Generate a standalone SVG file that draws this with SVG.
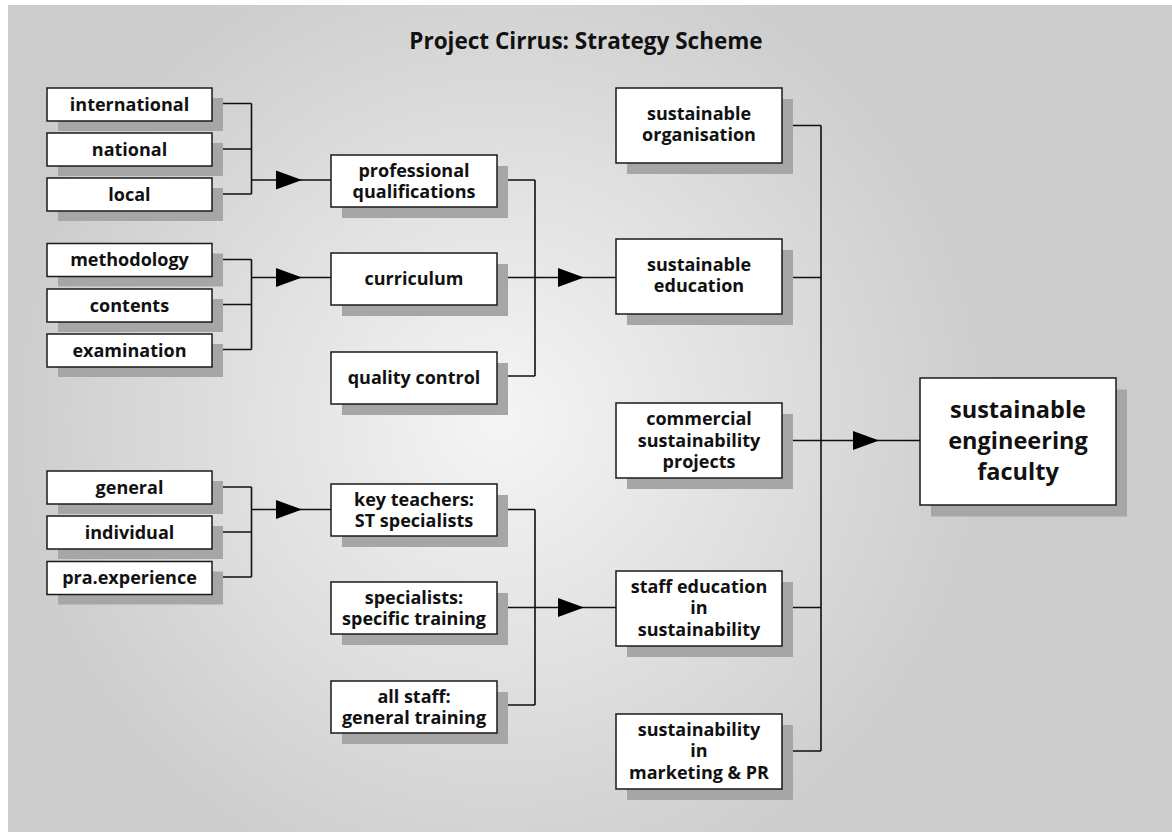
<svg xmlns="http://www.w3.org/2000/svg" xmlns:xlink="http://www.w3.org/1999/xlink" width="1172" height="832" viewBox="0 0 1172 832">
<defs>
<radialGradient id="bg" gradientUnits="userSpaceOnUse" cx="500" cy="420" r="500">
<stop offset="0" stop-color="#f5f5f5"/>
<stop offset="1" stop-color="#cccccc"/>
</radialGradient>
<path id="arr" d="M0,0 L-26,-9.5 L-26,9.5 Z" fill="#000"/>
</defs>
<style>
.sh{fill:#a6a6a6}
.bx{fill:#fff;stroke:#1a1a1a;stroke-width:1.5}
.t{font-family:"Open Sans","Noto Sans","DejaVu Sans",sans-serif;font-weight:bold;font-size:18px;fill:#111;text-anchor:middle}
.big{font-size:23.5px}
.ttl{font-size:22.5px}
.ln{fill:none;stroke:#111;stroke-width:1.6}
</style>
<rect x="8" y="5" width="1164" height="827" fill="url(#bg)"/>
<text class="t ttl" x="586" y="49">Project Cirrus: Strategy Scheme</text>

<g id="connectors">
<path class="ln" d="M212,103.5H251.5M212,149H251.5M212,194H251.5M251.5,103.5V194M251.5,180H331"/>
<path class="ln" d="M212,259.5H251.5M212,304.5H251.5M212,349.5H251.5M251.5,259.5V349.5M251.5,277.5H331"/>
<path class="ln" d="M212,487H251.5M212,532H251.5M212,577H251.5M251.5,487V577M251.5,509.5H331"/>
<path class="ln" d="M497,180H535M497,277.5H616M497,376H535M535,180V376"/>
<path class="ln" d="M497,509.5H535M497,607.5H616M497,705H535M535,509.5V705"/>
<path class="ln" d="M782,125.5H821M782,277.5H821M782,440.5H821M782,607.5H821M782,751H821M821,125.5V751M821,440.5H920"/>
<use xlink:href="#arr" x="302" y="180"/>
<use xlink:href="#arr" x="302" y="277.5"/>
<use xlink:href="#arr" x="302" y="509.5"/>
<use xlink:href="#arr" x="584" y="277.5"/>
<use xlink:href="#arr" x="584" y="607.5"/>
<use xlink:href="#arr" x="879" y="440.5"/>
</g>

<g id="international"><rect class="sh" x="58" y="98" width="165" height="33"/><rect class="bx" x="47" y="88" width="165" height="33"/><text class="t" x="129.5" y="110.5">international</text></g>
<g id="national"><rect class="sh" x="58" y="143" width="165" height="33"/><rect class="bx" x="47" y="133" width="165" height="33"/><text class="t" x="129.5" y="155.5">national</text></g>
<g id="local"><rect class="sh" x="58" y="188" width="165" height="33"/><rect class="bx" x="47" y="178" width="165" height="33"/><text class="t" x="129.5" y="200.5">local</text></g>

<g id="methodology"><rect class="sh" x="58" y="253.5" width="165" height="33"/><rect class="bx" x="47" y="243.5" width="165" height="33"/><text class="t" x="129.5" y="266">methodology</text></g>
<g id="contents"><rect class="sh" x="58" y="299" width="165" height="33"/><rect class="bx" x="47" y="289" width="165" height="33"/><text class="t" x="129.5" y="311.5">contents</text></g>
<g id="examination"><rect class="sh" x="58" y="344" width="165" height="33"/><rect class="bx" x="47" y="334" width="165" height="33"/><text class="t" x="129.5" y="356.5">examination</text></g>

<g id="general"><rect class="sh" x="58" y="481" width="165" height="33"/><rect class="bx" x="47" y="471" width="165" height="33"/><text class="t" x="129.5" y="493.5">general</text></g>
<g id="individual"><rect class="sh" x="58" y="526" width="165" height="33"/><rect class="bx" x="47" y="516" width="165" height="33"/><text class="t" x="129.5" y="538.5">individual</text></g>
<g id="pra-experience"><rect class="sh" x="58" y="571.5" width="165" height="33"/><rect class="bx" x="47" y="561.5" width="165" height="33"/><text class="t" x="129.5" y="584">pra.experience</text></g>

<g id="professional-qualifications"><rect class="sh" x="342" y="166" width="166" height="52"/><rect class="bx" x="331" y="155" width="166" height="52"/><text class="t" x="414" y="176.5"><tspan x="414">professional</tspan><tspan x="414" dy="21">qualifications</tspan></text></g>
<g id="curriculum"><rect class="sh" x="342" y="264" width="166" height="52"/><rect class="bx" x="331" y="253" width="166" height="52"/><text class="t" x="414" y="285">curriculum</text></g>
<g id="quality-control"><rect class="sh" x="342" y="363" width="166" height="52"/><rect class="bx" x="331" y="352" width="166" height="52"/><text class="t" x="414" y="384">quality control</text></g>

<g id="key-teachers"><rect class="sh" x="342" y="495" width="166" height="52"/><rect class="bx" x="331" y="484" width="166" height="52"/><text class="t" x="414" y="505.5"><tspan x="414">key teachers:</tspan><tspan x="414" dy="21">ST specialists</tspan></text></g>
<g id="specialists"><rect class="sh" x="342" y="593" width="166" height="52"/><rect class="bx" x="331" y="582" width="166" height="52"/><text class="t" x="414" y="603.5"><tspan x="414">specialists:</tspan><tspan x="414" dy="21">specific training</tspan></text></g>
<g id="all-staff"><rect class="sh" x="342" y="692" width="166" height="52"/><rect class="bx" x="331" y="681" width="166" height="52"/><text class="t" x="414" y="702.5"><tspan x="414">all staff:</tspan><tspan x="414" dy="21">general training</tspan></text></g>

<g id="sustainable-organisation"><rect class="sh" x="627" y="99" width="166" height="75"/><rect class="bx" x="616" y="88" width="166" height="75"/><text class="t" x="699" y="120"><tspan x="699">sustainable</tspan><tspan x="699" dy="21">organisation</tspan></text></g>
<g id="sustainable-education"><rect class="sh" x="627" y="250" width="166" height="75"/><rect class="bx" x="616" y="239" width="166" height="75"/><text class="t" x="699" y="271"><tspan x="699">sustainable</tspan><tspan x="699" dy="21">education</tspan></text></g>
<g id="commercial-projects"><rect class="sh" x="627" y="414" width="166" height="75"/><rect class="bx" x="616" y="403" width="166" height="75"/><text class="t" x="699" y="425"><tspan x="699">commercial</tspan><tspan x="699" dy="21.5">sustainability</tspan><tspan x="699" dy="21.5">projects</tspan></text></g>
<g id="staff-education"><rect class="sh" x="627" y="582" width="166" height="75"/><rect class="bx" x="616" y="571" width="166" height="75"/><text class="t" x="699" y="592.5"><tspan x="699">staff education</tspan><tspan x="699" dy="21.5">in</tspan><tspan x="699" dy="21.5">sustainability</tspan></text></g>
<g id="marketing-pr"><rect class="sh" x="627" y="725" width="166" height="75"/><rect class="bx" x="616" y="714" width="166" height="75"/><text class="t" x="699" y="735.5"><tspan x="699">sustainability</tspan><tspan x="699" dy="21.5">in</tspan><tspan x="699" dy="21.5">marketing &amp; PR</tspan></text></g>

<g id="sustainable-engineering-faculty"><rect class="sh" x="931" y="389.5" width="196" height="127"/><rect class="bx" x="920" y="378" width="196" height="127"/><text class="t big" x="1018" y="418"><tspan x="1018">sustainable</tspan><tspan x="1018" dy="31">engineering</tspan><tspan x="1018" dy="31">faculty</tspan></text></g>
</svg>
